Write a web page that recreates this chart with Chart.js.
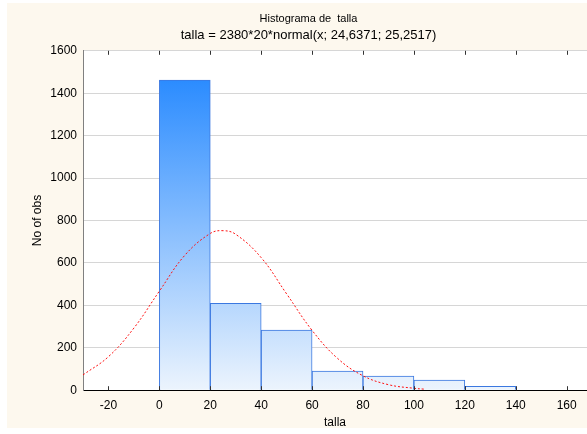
<!DOCTYPE html>
<html>
<head>
<meta charset="utf-8">
<script src="https://cdn.jsdelivr.net/npm/chart.js@4/dist/chart.umd.min.js"></script>
<style>
  html, body { margin: 0; padding: 0; background: #ffffff; }
  #wrap { width: 587px; height: 434px; }
</style>
</head>
<body>
<div id="wrap"><canvas id="histChart" width="587" height="434"></canvas></div>
<script>
//////// Data ///////////////////
const binCenters = [10, 30, 50, 70, 90, 110, 130];
const binCounts = [1462, 410, 283, 90, 66, 48, 18];

const curveX = [-30, -20, -10, 0, 10, 20, 25, 30, 40, 50, 60, 70, 80, 90, 100, 104];
const curveY = [72, 158, 293, 467, 636, 739, 752, 735, 625, 454, 282, 150, 68, 26, 9, 5];

const xTicks = [-20, 0, 20, 40, 60, 80, 100, 120, 140, 160];

const fontFamily = "'Liberation Sans', Arial, sans-serif";
const tickFont = { family: fontFamily, size: 12 };

//////// Plugins ///////////////////
const backdrop = {
  id: "backdrop",
  beforeDraw(chart) {
    const { ctx, chartArea: a } = chart;
    ctx.save();
    ctx.fillStyle = "#ffffff";
    ctx.fillRect(0, 0, chart.width, chart.height);
    ctx.fillStyle = "#fdf8ee";
    ctx.fillRect(7, 3, chart.width - 7, 425);
    ctx.fillStyle = "#ffffff";
    ctx.fillRect(a.left, a.top, a.right - a.left, a.bottom - a.top);
    ctx.restore();
  },
};

// small tick marks pointing into the plot
const innerTicks = {
  id: "innerTicks",
  afterDatasetsDraw(chart) {
    const { ctx, chartArea: a, scales } = chart;
    ctx.save();
    ctx.strokeStyle = "#333333";
    ctx.lineWidth = 1;
    scales.x.ticks.forEach((t) => {
      const px = Math.round(scales.x.getPixelForValue(t.value)) + 0.5;
      ctx.beginPath();
      ctx.moveTo(px, a.bottom);
      ctx.lineTo(px, a.bottom - 4);
      ctx.moveTo(px, a.top);
      ctx.lineTo(px, a.top + 4);
      ctx.stroke();
    });
    ctx.restore();
  },
};

const barGradient = function (context) {
  const { ctx, chartArea } = context.chart;
  if (!chartArea) return "#8fc3fb";
  const g = ctx.createLinearGradient(0, chartArea.top, 0, chartArea.bottom);
  g.addColorStop(0, "rgb(25, 130, 255)");
  g.addColorStop(1, "rgb(236, 244, 253)");
  return g;
};

//////// Chart ///////////////////
const ctx = document.getElementById("histChart");
const histChart = new Chart(ctx, {
  type: "bar",
  data: {
    datasets: [
      {
        type: "line",
        label: "normal",
        data: curveX.map((x, i) => ({ x: x, y: curveY[i] })),
        borderColor: "#ff1010",
        borderWidth: 1,
        borderDash: [2, 2],
        pointRadius: 0,
        tension: 0.4,
        fill: false,
        order: 0,
      },
      {
        label: "talla",
        data: binCenters.map((x, i) => ({ x: x, y: binCounts[i] })),
        backgroundColor: barGradient,
        borderColor: "#3b78e0",
        borderWidth: 1,
        barPercentage: 1,
        categoryPercentage: 1,
        order: 1,
      },
    ],
  },
  options: {
    responsive: false,
    animation: false,
    layout: { padding: { top: 0, right: 0, bottom: 4, left: 30 } },
    scales: {
      x: {
        type: "linear",
        offset: false,
        min: -30,
        max: 168,
        afterBuildTicks: (scale) => {
          scale.ticks = xTicks.map((v) => ({ value: v }));
        },
        grid: { display: false },
        border: { color: "#000000", width: 1 },
        ticks: { color: "#000000", font: tickFont, padding: 0, maxRotation: 0 },
        title: { display: true, text: "talla", color: "#000000", font: tickFont, padding: { top: 3, bottom: 0 } },
      },
      y: {
        min: 0,
        max: 1600,
        ticks: {
          stepSize: 200,
          color: "#000000",
          font: tickFont,
          padding: 6,
          callback: (v) => String(v),
        },
        grid: { color: "#d6d6d6", drawTicks: false },
        border: { color: "#808080", width: 1 },
        title: { display: true, text: "No of obs", color: "#000000", font: tickFont, padding: { top: 0, bottom: 0 } },
        afterFit: (scale) => {
          scale.width = 53;
        },
      },
    },
    plugins: {
      title: {
        display: true,
        text: "Histograma de  talla",
        color: "#000000",
        font: { family: fontFamily, size: 11, weight: "normal" },
        padding: { top: 12, bottom: 2 },
      },
      subtitle: {
        display: true,
        text: "talla = 2380*20*normal(x; 24,6371; 25,2517)",
        color: "#000000",
        font: { family: fontFamily, size: 13, weight: "normal" },
        padding: { top: 0, bottom: 8 },
      },
      legend: { display: false },
      tooltip: { enabled: false },
    },
  },
  plugins: [backdrop, innerTicks],
});
</script>
</body>
</html>
